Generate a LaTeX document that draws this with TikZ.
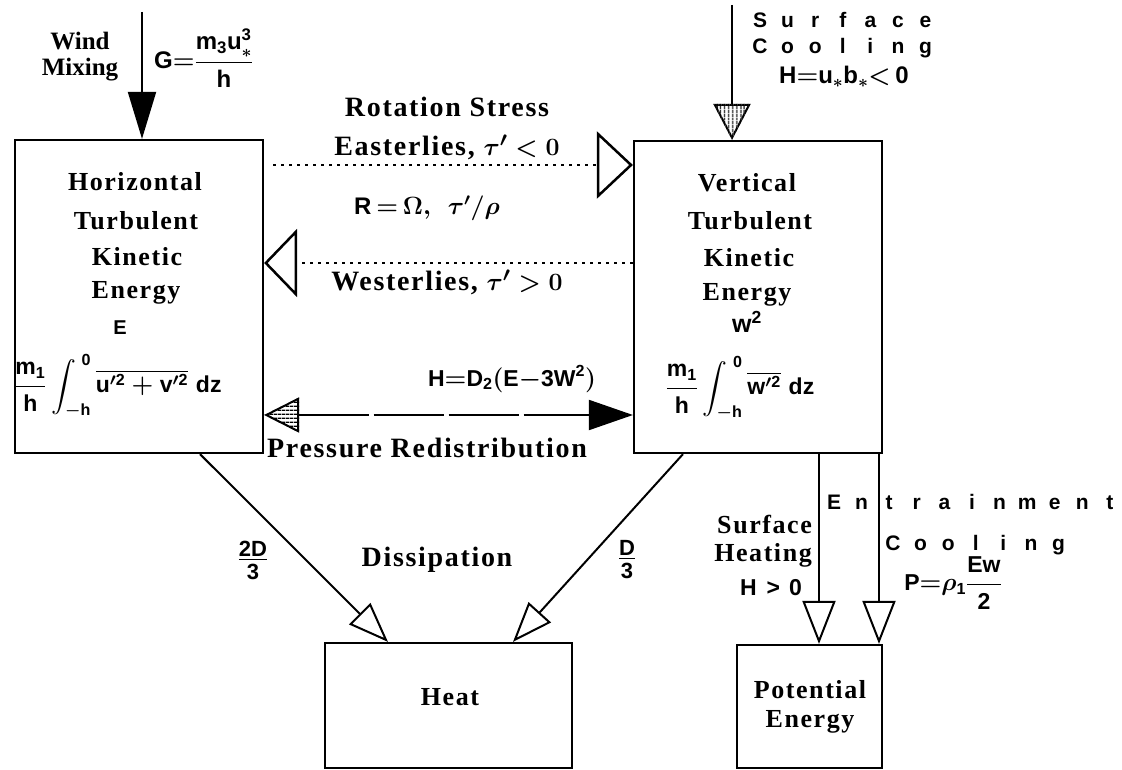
\documentclass[tikz,border=0pt]{standalone}
\usepackage{amsmath}
\usepackage{fontspec}
\setmainfont{Liberation Serif}
\setsansfont{Liberation Sans}
\usetikzlibrary{arrows.meta,patterns.meta,calc}
\newcommand\lcell[1]{\makebox[27.6pt]{#1}}
\def\spaceout#1{\ifx#1\relax\else\lcell{#1}\expandafter\spaceout\fi}
\tikzset{
  box/.style={draw, line width=2.2pt, inner sep=0pt},
  lab/.style={inner sep=0pt, font=\fontsize{26}{28}\selectfont\bfseries\boldmath\addfontfeatures{LetterSpace=6}},
  biglab/.style={inner sep=0pt, font=\fontsize{28}{30}\selectfont\bfseries\boldmath\addfontfeatures{LetterSpace=6}},
  sflab/.style={inner sep=0pt, font=\fontsize{22}{26}\selectfont\sffamily\bfseries\boldmath},
  spaced/.style={inner sep=0pt, anchor=west, font=\fontsize{21}{24}\selectfont\sffamily\bfseries},
  conn/.style={line width=2pt},
  dotline/.style={line width=2.2pt, dash pattern=on 2.5pt off 5.5pt},
  presline/.style={line width=2pt, dash pattern=on 70pt off 5pt},
}
\begin{document}
\begin{tikzpicture}[x=1pt,y=-1pt]
\useasboundingbox (0,0) rectangle (1122,770);
% boxes
\node[box, minimum width=248pt, minimum height=313pt] (hk) at (139,296.5) {};
\node[box, minimum width=248pt, minimum height=312pt] (vk) at (758,297) {};
\node[box, minimum width=247pt, minimum height=125pt] (heat) at (448.5,705.5) {};
\node[box, minimum width=145pt, minimum height=123pt] (pe) at (809.5,706.5) {};
% left box text
\node[lab] (h1) at (135,182) {Horizontal};
\node[lab] (h2) at (136,221) {Turbulent};
\node[lab] (h3) at (137,257) {Kinetic};
\node[lab] (h4) at (136,293) {Energy};
\node[sflab, font=\fontsize{20}{22}\selectfont\sffamily\bfseries] (h5) at (120,328) {E};
\node[sflab, anchor=west, font=\fontsize{23}{26}\selectfont\sffamily\bfseries\boldmath] (h6) at (14,386)
  {$\dfrac{\mathsf{m_1}}{\mathsf{h}}\displaystyle\int_{-\mathsf{h}}^{\;\mathsf{0}}\overline{\mathsf{u'^2+v'^2}}\;\mathsf{dz}$};
% right box text
\node[lab] (v1) at (747,183) {Vertical};
\node[lab] (v2) at (750,221) {Turbulent};
\node[lab] (v3) at (749,258) {Kinetic};
\node[lab] (v4) at (747,295) {Energy};
\node[sflab, font=\fontsize{25}{28}\selectfont\sffamily\bfseries\boldmath] (v5) at (747,322) {$\mathsf{w^2}$};
\node[sflab, font=\fontsize{23}{26}\selectfont\sffamily\bfseries\boldmath] (v6) at (740,388)
  {$\dfrac{\mathsf{m_1}}{\mathsf{h}}\displaystyle\int_{-\mathsf{h}}^{\;\mathsf{0}}\overline{\mathsf{w'^2}}\;\mathsf{dz}$};
% heat / PE text
\node[lab] (ht) at (450,697) {Heat};
\node[lab] (pe1) at (810,690) {Potential};
\node[lab] (pe2) at (810,722) {Energy};
% wind mixing
\node[lab, align=center, font=\fontsize{25}{26}\selectfont\bfseries] (wm1) at (80,57) {Wind\\Mixing};
\node[sflab, anchor=west, font=\fontsize{24}{26}\selectfont\sffamily\bfseries\boldmath] (wm2) at (154,58) {$\mathsf{G{=}}\dfrac{\mathsf{m_3u_*^3}}{\mathsf{h}}$};
\coordinate (wm) at (142,12);
\draw[conn, -{Triangle[length=47pt,width=28pt]}] (wm) -- (wm |- hk.north);
% surface cooling
\node[spaced] (sc1) at (746,20) {\spaceout Surface\relax};
\node[spaced] (sc2) at (746,48) {\spaceout Cooling\relax};
\node[sflab, font=\fontsize{24}{26}\selectfont\sffamily\bfseries\boldmath] (sc3) at (844,77) {$\mathsf{H{=}u_*b_*{<}\,0}$};
\coordinate (sc) at (732,5);
\draw[conn, -{Triangle[open,length=36pt,width=37pt,line width=2pt]}] (sc) -- (sc |- vk.north);
\fill[pattern={Lines[angle=90,distance=4pt,line width=1.5pt]}] (sc |- vk.north) -- ++(-18.5,-36) -- ++(37,0) -- cycle;
% rotation stress
\node[biglab] (rs1) at (447,107) {Rotation Stress};
\node[biglab] (rs2) at (447,147) {Easterlies, $\tau'<0$};
\node[lab, font=\fontsize{24}{26}\selectfont\boldmath] (rs3) at (427,208) {$\mathsf{R}\,{=}\,\Omega,\ \ \tau'/\rho$};
\node[biglab] (rs4) at (447,282) {Westerlies, $\tau'>0$};
\coordinate (ey) at (0,165);
\coordinate (wy) at (0,263);
\draw[dotline, shorten <=9pt, -{Triangle[open,length=36pt,width=67pt,line width=2.5pt]}] (hk.east |- ey) -- (vk.west |- ey);
\draw[dotline, -{Triangle[open,length=33pt,width=68pt,line width=2.5pt]}] (vk.west |- wy) -- (hk.east |- wy);
% pressure redistribution
\coordinate (py) at (0,415);
\node[sflab, font=\fontsize{23}{26}\selectfont\sffamily\bfseries\boldmath] (pr1) at (512,379) {$\mathsf{H{=}D_2(E{-}3W^2)}$};
\node[biglab] (pr2) at (427,448) {Pressure Redistribution};
\draw[presline, {Triangle[open,length=35pt,width=35pt,line width=2pt]}-{Triangle[length=44pt,width=30pt]}] (hk.east |- py) -- (vk.west |- py);
\fill[pattern={Lines[angle=0,distance=4pt,line width=1.5pt]}] (hk.east |- py) -- ++(35,-17.5) -- ++(0,35) -- cycle;
% dissipation
\coordinate (d1) at (200,0);
\coordinate (d1e) at (388,0);
\coordinate (d2) at (683,0);
\coordinate (d2e) at (513,0);
\draw[conn, -{Triangle[open,length=40pt,width=30pt,line width=2pt]}] (d1 |- hk.south) -- (d1e |- heat.north);
\draw[conn, -{Triangle[open,length=40pt,width=30pt,line width=2pt]}] (d2 |- vk.south) -- (d2e |- heat.north);
\node[biglab] (dis) at (437,560) {Dissipation};
\node[sflab, align=center] (f1) at (253,560) {\underline{2D}\\[-3pt]3};
\node[sflab, align=center] (f2) at (627,560) {\underline{D}\\[-3pt]3};
% entrainment / surface heating
\coordinate (e1) at (819,0);
\coordinate (e2) at (879,0);
\draw[conn, -{Triangle[open,length=43pt,width=33pt,line width=2pt]}] (e1 |- vk.south) -- (e1 |- pe.north);
\draw[conn, -{Triangle[open,length=43pt,width=33pt,line width=2pt]}] (e2 |- vk.south) -- (e2 |- pe.north);
\node[spaced] (en1) at (820,502) {\spaceout Entrainment\relax};
\node[spaced] (en2) at (879,545) {\spaceout Cooling\relax};
\node[sflab, font=\fontsize{23}{26}\selectfont\sffamily\bfseries\boldmath] (en3) at (953,583) {$\mathsf{P{=}\rho_1}\dfrac{\mathsf{Ew}}{\mathsf{2}}$};
\node[lab, align=right, anchor=east, font=\fontsize{26}{28}\selectfont\bfseries\addfontfeatures{LetterSpace=6}] (sh1) at (812,541) {Surface\\Heating};
\node[sflab, font=\fontsize{23}{26}\selectfont\sffamily\bfseries] (sh2) at (771,588) {H\hspace{10pt}>\hspace{9pt}0};
\end{tikzpicture}
\end{document}
